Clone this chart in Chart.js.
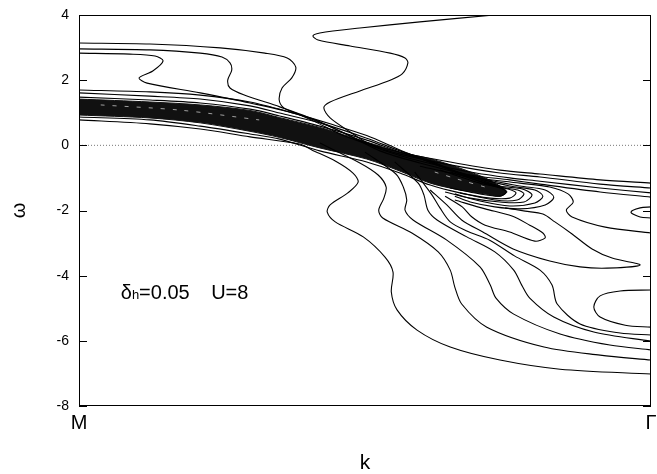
<!DOCTYPE html>
<html>
<head>
<meta charset="utf-8">
<script src="https://cdn.jsdelivr.net/npm/chart.js@4.4.1/dist/chart.umd.min.js"></script>
<style>
  html, body { margin: 0; padding: 0; background: #fff; }
</style>
</head>
<body>
<canvas id="chart" width="657" height="474"></canvas>
<script>
// axis ticks
const kTicks = [0, 1];
const kTickLabels = ["M", "\u0393"];
const omegaTicks = [-8, -6, -4, -2, 0, 2, 4];

// annotation (data position of the text baseline)
const labelAt = [0.073, -4.72];
const label2At = [0.231, -4.72];

// contour lines, [k, omega]
const zeroLine = [[0, 0], [1, 0]];

const bandCore = [[0,1.42],[.124,1.33],[.212,1.24],[.299,1.07],[.351,.85],[.421,.55],[.503,.10],[.561,-.21],[.614,-.41],[.666,-.70],[.710,-1.00],[.736,-1.25],[.748,-1.43],
  [.736,-1.56],[.710,-1.49],[.666,-1.37],[.614,-1.16],[.561,-.79],[.503,-.42],[.421,-.08],[.351,.24],[.299,.43],[.212,.69],[.124,.84],[0,.93]];

const ridgeLeft = [[.038,1.24],[.177,1.08],[.315,.78]];
const ridgeRight = [[.622,-.82],[.666,-1.06],[.710,-1.28]];

const lineD = [[.726,4],[.596,3.79],[.491,3.6],[.421,3.45],[.409,3.36],[.418,3.23],[.474,3.05],[.544,2.83],[.57,2.68],[.575,2.53],[.565,2.19],[.544,2.0],[.491,1.67],[.439,1.33],[.428,1.15],[.439,.84],[.474,.41],[.505,.07],[.561,-.21],[.649,-.51],[.736,-.76],[.806,-.88],[.911,-1.06],[1,-1.16]];
const lineA = [[0,3.14],[.124,3.11],[.247,2.99],[.325,2.83],[.364,2.68],[.379,2.40],[.372,2.07],[.355,1.76],[.350,1.39],[.358,1.15],[.379,.99],[.413,.72],[.456,.35],[.509,.01],[.561,-.27],[.649,-.60],[.736,-.85],[.806,-.97],[.911,-1.19],[1,-1.31]];
const lineB = [[0,2.96],[.124,2.93],[.212,2.83],[.250,2.71],[.264,2.53],[.267,2.31],[.260,2.0],[.264,1.76],[.290,1.54],[.351,1.18],[.421,.72],[.474,.29],[.526,-.11],[.596,-.48],[.684,-.82],[.753,-1.0],[.806,-1.10],[.911,-1.31],[1,-1.46]];
const lineC = [[0,2.83],[.089,2.80],[.133,2.74],[.147,2.59],[.129,2.28],[.105,2.07],[.119,1.91],[.212,1.61],[.299,1.30],[.386,.93],[.456,.44],[.526,-.17],[.596,-.54],[.684,-.91],[.753,-1.06],[.806,-1.19],[.911,-1.43],[1,-1.59]];

const loop1 = [[0,1.48],[.124,1.39],[.212,1.30],[.299,1.11],[.351,.90],[.421,.59],[.503,.16],[.561,-.21],[.614,-.51],[.666,-.88],[.719,-1.22],[.750,-1.34],[.764,-1.46],[.753,-1.62],[.719,-1.62],[.666,-1.46],[.614,-1.22],[.561,-.85],[.503,-.51],[.421,-.17],[.351,.19],[.299,.35],[.212,.59],[.124,.78],[0,.87]];
const loop2 = [[0,1.61],[.124,1.51],[.212,1.42],[.299,1.21],[.351,.99],[.421,.69],[.503,.22],[.561,-.17],[.614,-.48],[.666,-.85],[.736,-1.25],[.775,-1.34],[.792,-1.52],[.778,-1.74],[.736,-1.74],[.684,-1.62],[.640,-1.43]];
const loop3 = [[0,1.70],[.124,1.64],[.212,1.54],[.299,1.33],[.369,1.02],[.439,.66],[.503,.3],[.561,-.14],[.631,-.64],[.701,-1.0],[.771,-1.25],[.815,-1.37],[.830,-1.59],[.815,-1.83],[.771,-1.95],[.727,-1.89],[.684,-1.74],[.657,-1.56]];
const tipA = [[.631,-.76],[.701,-1.16],[.736,-1.31],[.747,-1.43],[.736,-1.56],[.701,-1.49],[.649,-1.31]];
const tipB = [[.649,-.82],[.736,-1.28],[.767,-1.37],[.778,-1.49],[.766,-1.68],[.727,-1.68],[.666,-1.46]];
const tipC = [[.666,-.88],[.753,-1.25],[.797,-1.37],[.811,-1.56],[.797,-1.77],[.753,-1.86],[.701,-1.71],[.657,-1.49]];

const lineS1 = [[.596,-.64],[.684,-.97],[.771,-1.16],[.823,-1.28],[.855,-1.49],[.864,-1.74],[.852,-1.99],[.862,-2.20],[.920,-2.51],[1,-2.69]];
const lineS2 = [[.657,-1.68],[.710,-1.95],[.757,-2.17],[.788,-2.45],[.811,-2.69],[.815,-2.84],[.797,-2.94],[.753,-2.66],[.710,-2.45],[.687,-2.20],[.670,-1.89],[.640,-1.56]];
const lineU = [[.614,-1.37],[.643,-1.83],[.669,-2.29],[.706,-2.66],[.759,-3.18],[.823,-3.55],[.876,-3.73],[.923,-3.77],[.981,-3.67],[.932,-3.46],[.897,-3.18],[.862,-2.72],[.832,-2.35],[.811,-2.11],[.780,-2.02],[.745,-1.92]];
const ovalTop = [[1,-1.89],[.981,-1.92],[.965,-2.05],[.981,-2.20],[1,-2.23]];
const ovalLow = [[1,-4.44],[.946,-4.47],[.911,-4.62],[.900,-4.96],[.911,-5.27],[.955,-5.52],[1,-5.58]];

const lineL1 = [[0,.78],[.124,.66],[.212,.50],[.299,.26],[.386,.04],[.407,-.14],[.448,-.48],[.479,-.85],[.488,-1.13],[.470,-1.46],[.439,-1.83],[.434,-2.05],[.448,-2.35],[.497,-2.81],[.535,-3.43],[.549,-3.89],[.546,-4.5],[.556,-5.05],[.591,-5.67],[.649,-6.19],[.736,-6.59],[.841,-6.87],[1,-7.02]];
const lineL2 = [[.421,.07],[.491,-.54],[.523,-.91],[.537,-1.28],[.533,-1.62],[.524,-1.99],[.531,-2.23],[.582,-2.69],[.628,-3.27],[.649,-3.83],[.657,-4.35],[.669,-4.87],[.713,-5.58],[.813,-6.19],[.911,-6.44],[1,-6.59]];
const lineL3 = [[.5,-.21],[.554,-.88],[.567,-1.28],[.573,-1.68],[.570,-1.99],[.584,-2.29],[.643,-2.91],[.701,-3.73],[.719,-4.29],[.729,-4.69],[.760,-5.18],[.841,-5.79],[.928,-6.13],[1,-6.28]];
const lineL4 = [[.552,-.51],[.593,-1.16],[.603,-1.52],[.610,-1.99],[.626,-2.29],[.678,-2.81],[.727,-3.27],[.760,-3.83],[.774,-4.29],[.788,-4.69],[.830,-5.27],[.900,-5.73],[1,-6.01]];
const lineL5 = [[.587,-.82],[.617,-1.52],[.631,-1.92],[.649,-2.35],[.678,-2.63],[.718,-2.91],[.762,-3.40],[.806,-3.83],[.827,-4.29],[.836,-4.87],[.876,-5.48],[.946,-5.76],[1,-5.82]];

const contours = [lineD, lineA, lineB, lineC, loop1, loop2, loop3, tipA, tipB, tipC,
  lineS1, lineS2, lineU, ovalTop, ovalLow, lineL1, lineL2, lineL3, lineL4, lineL5];

const FONT = "'Liberation Sans', Arial, Helvetica, sans-serif";
const toXY = pts => pts.map(p => ({ x: p[0], y: p[1] }));

const datasets = [
  { data: toXY(zeroLine), borderColor: "#777", borderWidth: 1, borderDash: [1, 2], tension: 0, order: 10 },
  { data: toXY(bandCore), borderColor: "#111", backgroundColor: "#111", borderWidth: 1, fill: "shape", tension: 0.3, order: 5 },
];
contours.forEach(c => {
  datasets.push({ data: toXY(c), borderColor: "#000", borderWidth: 1.1, tension: 0.3, fill: false, order: 2 });
});
[ridgeLeft, ridgeRight].forEach(r => {
  datasets.push({ data: toXY(r), borderColor: "rgba(255,255,255,0.6)", borderWidth: 1, borderDash: [4, 8], tension: 0.3, fill: false, order: 0 });
});
datasets.forEach(d => { d.showLine = true; d.pointRadius = 0; });

const frame = {
  id: "frame",
  afterDatasetsDraw(chart) {
    const { ctx, chartArea: { left, right, top, bottom }, scales: { x, y } } = chart;
    ctx.save();
    ctx.strokeStyle = "#000";
    ctx.lineWidth = 1;
    ctx.beginPath();
    omegaTicks.forEach(v => {
      const py = Math.round(y.getPixelForValue(v)) + 0.5;
      ctx.moveTo(left, py); ctx.lineTo(left + 8, py);
      ctx.moveTo(right - 8, py); ctx.lineTo(right, py);
    });
    ctx.stroke();
    ctx.strokeRect(Math.round(left) + 0.5, Math.round(top) + 0.5, Math.round(right - left) - 1, Math.round(bottom - top) - 1);

    // δh=0.05   U=8
    ctx.fillStyle = "#000";
    ctx.textBaseline = "alphabetic";
    let px = x.getPixelForValue(labelAt[0]);
    const py = y.getPixelForValue(labelAt[1]);
    ctx.font = "20px " + FONT;
    ctx.fillText("\u03b4", px, py);
    px += ctx.measureText("\u03b4").width;
    ctx.font = "13px " + FONT;
    ctx.fillText("h", px, py);
    px += ctx.measureText("h").width;
    ctx.font = "20px " + FONT;
    ctx.fillText("=0.05", px, py);
    ctx.fillText("U=8", x.getPixelForValue(label2At[0]), y.getPixelForValue(label2At[1]));
    ctx.restore();
  }
};

new Chart(document.getElementById("chart"), {
  type: "scatter",
  data: { datasets },
  options: {
    responsive: false,
    animation: false,
    events: [],
    layout: { padding: { top: 15, right: 6, left: 0, bottom: 0 } },
    plugins: { legend: { display: false }, tooltip: { enabled: false } },
    scales: {
      x: {
        type: "linear", min: 0, max: 1,
        grid: { display: false, drawTicks: false },
        border: { display: false },
        afterBuildTicks: s => { s.ticks = kTicks.map(v => ({ value: v })); },
        afterFit: s => { s.height = 68; s.paddingLeft = 0; s.paddingRight = 0; },
        ticks: { autoSkip: false, maxRotation: 0, padding: 5, color: "#000",
          font: { family: FONT, size: 20 },
          callback: (v, i) => kTickLabels[i] },
        title: { display: true, text: "k", color: "#000", padding: { top: 0, bottom: 0 },
          font: { family: FONT, size: 21, lineHeight: 1 } }
      },
      y: {
        type: "linear", min: -8, max: 4,
        grid: { display: false, drawTicks: false },
        border: { display: false },
        afterBuildTicks: s => { s.ticks = omegaTicks.map(v => ({ value: v })); },
        afterFit: s => { s.width = 79; s.paddingTop = 0; s.paddingBottom = 0; },
        ticks: { padding: 10, color: "#000", font: { family: FONT, size: 14 } },
        title: { display: true, text: "\u03c9", color: "#000", padding: { top: 9, bottom: 0 },
          font: { family: FONT, size: 20, lineHeight: 1 } }
      }
    }
  },
  plugins: [frame]
});
</script>
</body>
</html>
